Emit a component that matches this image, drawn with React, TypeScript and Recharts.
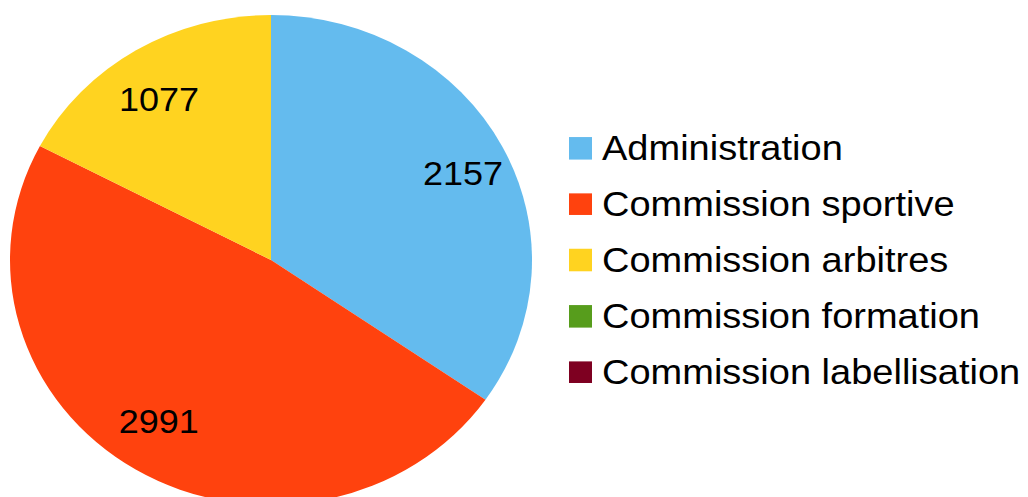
import React from "react";
import { PieChart, Pie, Cell, Legend } from "recharts";

const categories = [
  "Administration",
  "Commission sportive",
  "Commission arbitres",
  "Commission formation",
  "Commission labellisation",
];
const values = [2157, 2991, 1077, 0, 0];
const colors = ["#64bbee", "#ff420e", "#ffd320", "#579d1c", "#7e0021"];

const data = categories.map((name, i) => ({ name, value: values[i] }));

const FONT = "'Liberation Sans', Arial, sans-serif";
const SY = 245 / 261;
const RAD = Math.PI / 180;

const renderLabel = (props: any) => {
  const { cx, cy, midAngle, outerRadius, value } = props;
  if (!value) return null;
  const x = cx + outerRadius * 0.83 * Math.cos(-midAngle * RAD);
  const y = cy + outerRadius * 0.77 * Math.sin(-midAngle * RAD);
  return (
    <text
      x={x}
      y={y}
      fill="#000"
      textAnchor="middle"
      dominantBaseline="central"
      style={{ fontFamily: FONT, fontSize: 36 }}
    >
      {value}
    </text>
  );
};

const renderLegend = () => (
  <div style={{ fontFamily: FONT, fontSize: 38, color: "#000" }}>
    {categories.map((c, i) => (
      <div
        key={c}
        style={{ display: "flex", alignItems: "center", height: 59.66, whiteSpace: "nowrap" }}
      >
        <span
          style={{
            display: "inline-block",
            width: 23,
            height: 23.5,
            background: colors[i],
            marginRight: 10,
          }}
        />
        <span>{c}</span>
      </div>
    ))}
  </div>
);

export default function App() {
  return (
    <div
      style={{
        position: "fixed",
        left: 0,
        top: 0,
        width: 1028,
        height: 530,
        transform: `scaleY(${SY})`,
        transformOrigin: "0 0",
        background: "#fff",
      }}
    >
      <PieChart width={1028} height={530} margin={{ top: 0, right: 0, bottom: 0, left: 0 }}>
        <Pie
          data={data}
          dataKey="value"
          nameKey="name"
          cx={271}
          cy={277}
          outerRadius={261}
          startAngle={90}
          endAngle={-270}
          stroke="none"
          label={renderLabel}
          labelLine={false}
          isAnimationActive={false}
        >
          {data.map((d, i) => (
            <Cell key={d.name} fill={colors[i]} stroke="none" />
          ))}
        </Pie>
        <Legend
          layout="vertical"
          align="right"
          verticalAlign="top"
          content={renderLegend}
          wrapperStyle={{ position: "absolute", left: 569, top: 128, width: 459 }}
        />
      </PieChart>
    </div>
  );
}
